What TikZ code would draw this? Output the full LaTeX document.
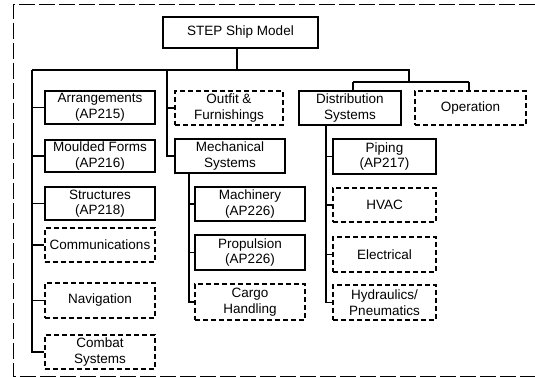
\documentclass[tikz,border=0pt]{standalone}
\usepackage{fontspec}
\setmainfont{Liberation Sans}
\begin{document}
\begin{tikzpicture}[x=1pt,y=-1pt,
  box/.style={draw=black,line width=1.5pt,inner sep=0pt,align=center,
    font=\fontsize{13.5}{15.5}\selectfont,text=black},
  solidbox/.style={box},
  dashbox/.style={box,dash pattern=on 5pt off 3pt},
  conn/.style={draw=black,line width=1.6pt},
  frame/.style={draw=black,line width=1pt,dash pattern=on 16pt off 4pt}]
\useasboundingbox (0,0) rectangle (535,377);
\fill[white] (0,0) rectangle (535,377);
\draw[frame] (535,5) -- (13,5) -- (13,376) -- (535,376);
% boxes: centre = ((x1+x2)/2,(y1+y2)/2)
\newcommand{\bx}[7]{\node[#1,minimum width=#4pt,minimum height=#5pt] (#2) at (#3) {#6};}
\node[solidbox,minimum width=155pt,minimum height=31pt] (step) at (240.5,32.5) {STEP Ship Model};
\node[solidbox,minimum width=110pt,minimum height=33pt] (arr) at (100,107.5) {Arrangements\\(AP215)};
\node[solidbox,minimum width=110pt,minimum height=32pt] (mould) at (100,156) {Moulded Forms\\(AP216)};
\node[solidbox,minimum width=110pt,minimum height=33pt] (struct) at (100,203.5) {Structures\\(AP218)};
\node[dashbox,minimum width=110pt,minimum height=34pt] (comm) at (100,245) {Communications};
\node[dashbox,minimum width=110pt,minimum height=35pt] (nav) at (100,300.5) {Navigation};
\node[dashbox,minimum width=110pt,minimum height=34pt] (combat) at (100,352) {Combat\\Systems};
\node[dashbox,minimum width=108pt,minimum height=34pt] (outfit) at (229,108) {Outfit \&\\Furnishings};
\node[solidbox,minimum width=110pt,minimum height=34pt] (mech) at (230,156) {Mechanical\\Systems};
\node[solidbox,minimum width=110pt,minimum height=34pt] (mach) at (250,204) {Machinery\\(AP226)};
\node[solidbox,minimum width=110pt,minimum height=35pt] (prop) at (250,252.5) {Propulsion\\(AP226)};
\node[dashbox,minimum width=110pt,minimum height=36pt] (cargo) at (250,302) {Cargo\\Handling};
\node[solidbox,minimum width=102pt,minimum height=34pt] (dist) at (350,108) {Distribution\\Systems};
\node[dashbox,minimum width=111pt,minimum height=34pt] (oper) at (470.5,108) {Operation};
\node[solidbox,minimum width=103pt,minimum height=35pt] (pip) at (384.5,156.5) {Piping\\(AP217)};
\node[dashbox,minimum width=103pt,minimum height=34pt] (hvac) at (384.5,205) {HVAC};
\node[dashbox,minimum width=103pt,minimum height=35pt] (elec) at (384.5,254.5) {Electrical};
\node[dashbox,minimum width=103pt,minimum height=35pt] (hyd) at (384.5,302.5) {Hydraulics/\\Pneumatics};
% junctions
\coordinate (top) at (237,70);
\coordinate (lt) at (32,70);
\coordinate (mt) at (167,70);
\coordinate (rt) at (409,70);
\coordinate (rj) at (409,82);
\coordinate (dj) at (353,82);
\coordinate (oj) at (469,82);
\coordinate (mecht) at (189,173);
\coordinate (distt) at (326,125);
% connectors
\draw[conn] (step.south -| top) -- (top);
\draw[conn] (lt) -- (rt) -- (rj);
\draw[conn] (dj) -- (oj);
\draw[conn] (dj) -- (dj |- dist.north);
\draw[conn] (oj) -- (oj |- oper.north);
\draw[conn] (lt) |- (combat.west);
\foreach \n in {arr,mould,struct,comm,nav}
  \draw[conn] (lt |- \n.west) -- (\n.west);
\draw[conn] (mt) |- (mech.west);
\draw[conn] (mt |- outfit.west) -- (outfit.west);
\draw[conn] (mecht) |- (cargo.west);
\foreach \n in {mach,prop}
  \draw[conn] (mecht |- \n.west) -- (\n.west);
\draw[conn] (distt) |- (hyd.west);
\foreach \n in {pip,hvac,elec}
  \draw[conn] (distt |- \n.west) -- (\n.west);
\end{tikzpicture}
\end{document}
